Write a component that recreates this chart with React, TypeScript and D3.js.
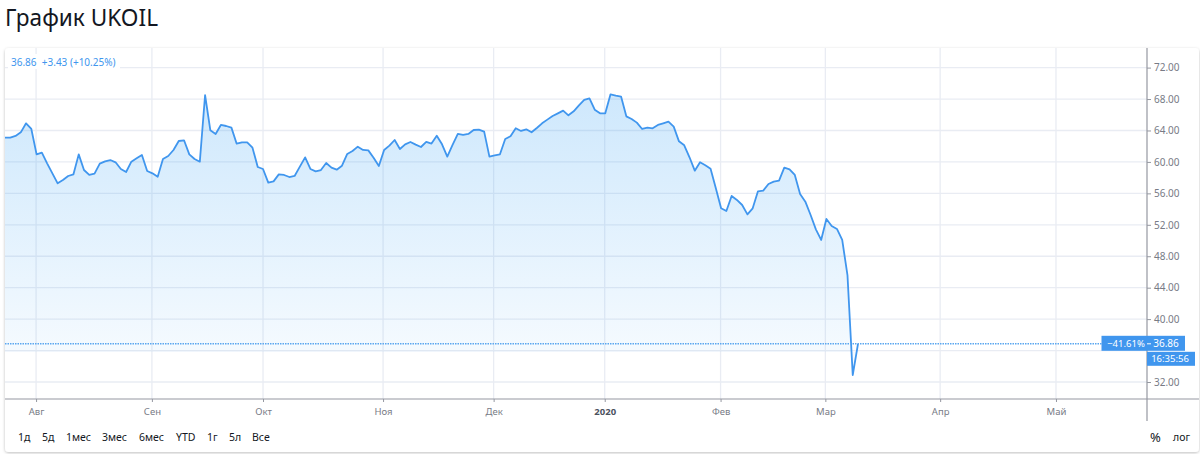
import { useEffect, useRef } from "react";
import * as d3 from "d3";

const prices = [
  63.09, 63.09, 63.3, 63.76, 64.91, 64.19, 60.96, 61.18, 59.82, 58.55, 57.28, 57.7, 58.21, 58.42, 60.96, 58.97,
  58.34, 58.51, 59.78, 60.07, 60.24, 59.95, 59.1, 58.72, 60.03, 60.46, 60.88, 58.84, 58.55, 58.12, 60.37, 60.75,
  61.52, 62.66, 62.75, 60.96, 60.37, 60.03, 68.51, 64.02, 63.55, 64.7, 64.57, 64.36, 62.32, 62.49, 62.49, 61.81,
  59.35, 59.1, 57.36, 57.53, 58.42, 58.34, 58.08, 58.21, 59.4, 60.58, 59.1, 58.8, 58.97, 59.86, 59.27, 59.01,
  59.52, 61.01, 61.39, 61.94, 61.52, 61.47, 60.54, 59.48, 61.52, 62.07, 62.79, 61.64, 62.24, 62.54, 62.2, 61.9,
  62.54, 62.33, 63.34, 62.24, 60.67, 62.16, 63.56, 63.43, 63.56, 64.06, 64.11, 63.85, 60.67, 60.84, 60.97, 62.92,
  63.26, 64.28, 63.94, 64.15, 63.77, 64.32, 64.91, 65.38, 65.85, 66.18, 66.52, 65.93, 66.44, 67.2, 67.88, 68.09,
  66.65, 66.18, 66.18, 68.6, 68.43, 68.31, 65.8, 65.46, 65.0, 64.19, 64.36, 64.28, 64.7, 64.91, 65.12, 64.49,
  62.62, 62.11, 60.59, 58.89, 59.95, 59.57, 59.14, 56.64, 54.1, 53.76, 55.67, 55.16, 54.52, 53.33, 54.1, 56.26,
  56.35, 57.19, 57.49, 57.62, 59.27, 59.06, 58.34, 55.92, 54.94, 53.25, 51.42, 50.07, 52.74, 51.85, 51.47, 50.07,
  45.61, 32.89, 36.86,
];
// 36.00 sits under the price tags in the original, so it only gets a grid line
const priceTicks = [32, 40, 44, 48, 52, 56, 60, 64, 68, 72];
const gridTicks = [32, 36, 40, 44, 48, 52, 56, 60, 64, 68, 72];
const monthLabels = ["Авг", "Сен", "Окт", "Ноя", "Дек", "2020", "Фев", "Мар", "Апр", "Май"];
// trading-day index of each month start, on the same axis as prices
const monthIndex = [5.9, 27.9, 49, 71.8, 92.8, 113.9, 135.9, 155.8, 177.6, 199.6];
const rangeButtons = ["1д", "5д", "1мес", "3мес", "6мес", "YTD", "1г", "5л", "Все"];
const rangeX = [18, 42, 66, 102, 139, 176, 207, 229, 252];
const lastPrice = 36.86;
const FONT = "'Noto Sans', sans-serif";

export default function App() {
  const svgRef = useRef<SVGSVGElement>(null);

  useEffect(() => {
    if (!svgRef.current) return;
    const svg = d3.select(svgRef.current);
    svg.selectAll("*").remove();

    const plot = { left: 5, right: 1147, top: 48, bottom: 399, card: 1199 };
    const x = d3.scaleLinear().domain([0, prices.length - 1]).range([5, 858]);
    const y = d3.scaleLinear().domain([32, 72]).range([382, 67.6]);

    const defs = svg.append("defs");
    const grad = defs.append("linearGradient").attr("id", "fade").attr("x1", 0).attr("x2", 0).attr("y1", 0).attr("y2", 1);
    grad.append("stop").attr("offset", "0%").attr("stop-color", "#2196f3").attr("stop-opacity", 0.22);
    grad.append("stop").attr("offset", "100%").attr("stop-color", "#2196f3").attr("stop-opacity", 0.03);
    const shadow = defs.append("filter").attr("id", "cardShadow").attr("x", "-2%").attr("y", "-5%").attr("width", "104%").attr("height", "110%");
    shadow.append("feDropShadow").attr("dx", 0).attr("dy", 1).attr("stdDeviation", 1.5).attr("flood-color", "#000").attr("flood-opacity", 0.25);

    svg.append("text").attr("x", 5).attr("y", 26).attr("font-family", FONT).attr("font-size", 23.5).attr("fill", "#131722")
      .attr("textLength", 153).attr("lengthAdjust", "spacingAndGlyphs").text("График UKOIL");

    svg.append("rect").attr("x", 5).attr("y", 48).attr("width", 1194).attr("height", 404).attr("rx", 4)
      .attr("fill", "#fff").attr("filter", "url(#cardShadow)");

    // Grid
    svg.selectAll(".grid-h").data(gridTicks).enter().append("line")
      .attr("x1", plot.left).attr("x2", plot.right).attr("y1", (d) => y(d)).attr("y2", (d) => y(d))
      .attr("stroke", "#e9ecf3").attr("stroke-width", 1.3);
    svg.selectAll(".grid-v").data(monthIndex).enter().append("line")
      .attr("x1", (d) => x(d)).attr("x2", (d) => x(d)).attr("y1", plot.top).attr("y2", plot.bottom)
      .attr("stroke", "#e9ecf3").attr("stroke-width", 1.3);

    // Area and line
    const area = d3.area<number>().x((_, i) => x(i)).y0(352).y1((d) => y(d));
    svg.append("path").datum(prices).attr("d", area).attr("fill", "url(#fade)");
    const line = d3.line<number>().x((_, i) => x(i)).y((d) => y(d));
    svg.append("path").datum(prices).attr("d", line).attr("fill", "none").attr("stroke", "#4096ee").attr("stroke-width", 1.8).attr("stroke-linejoin", "round");

    // Last price line
    svg.append("line").attr("x1", plot.left).attr("x2", plot.right - 45).attr("y1", y(lastPrice)).attr("y2", y(lastPrice))
      .attr("stroke", "#5aa7f0").attr("stroke-width", 1.4).attr("stroke-dasharray", "1.5 1");

    // Axes
    svg.append("line").attr("x1", plot.right).attr("x2", plot.right).attr("y1", plot.top).attr("y2", 421).attr("stroke", "#9598a1").attr("stroke-width", 1.2);
    svg.append("line").attr("x1", plot.left).attr("x2", plot.card).attr("y1", plot.bottom).attr("y2", plot.bottom).attr("stroke", "#9598a1").attr("stroke-width", 1.2);

    const yAxis = d3.axisRight(y).tickValues(priceTicks).tickFormat((d) => (d as number).toFixed(2)).tickSize(4).tickPadding(3);
    const yG = svg.append("g").attr("transform", `translate(${plot.right},0)`).call(yAxis);
    const xAxis = d3.axisBottom(x).tickValues(monthIndex).tickFormat((_, i) => monthLabels[i]).tickSize(3).tickPadding(6);
    const xG = svg.append("g").attr("transform", `translate(0,${plot.bottom})`).call(xAxis);
    yG.select(".domain").remove();
    xG.select(".domain").remove();
    yG.selectAll("line").attr("stroke", "#9598a1");
    xG.selectAll("line").attr("stroke", "#9598a1");
    yG.selectAll("text").attr("font-family", FONT).attr("font-size", 10).attr("fill", "#787b86");
    xG.selectAll("text").attr("font-family", FONT).attr("font-size", 9.5)
      .attr("fill", (_, i) => (monthLabels[i] === "2020" ? "#4c525e" : "#787b86"))
      .attr("font-weight", (_, i) => (monthLabels[i] === "2020" ? 700 : 400));

    // Legend top-left
    svg.append("rect").attr("x", 8).attr("y", 54).attr("width", 112).attr("height", 15).attr("fill", "#fff");
    svg.append("text").attr("x", 11).attr("y", 66).attr("font-family", FONT).attr("font-size", 10).attr("fill", "#4096ee").attr("xml:space", "preserve")
      .text("36.86  +3.43 (+10.25%)");

    // Price labels
    const tag = (x0: number, x1: number, y0: number, y1: number, label: string, tx: number, size: number) => {
      svg.append("rect").attr("x", x0).attr("y", y0).attr("width", x1 - x0).attr("height", y1 - y0).attr("fill", "#4096ee");
      svg.append("text").attr("x", tx).attr("y", (y0 + y1) / 2 + 3.5).attr("text-anchor", "middle").attr("font-family", FONT)
        .attr("font-size", size).attr("fill", "#fff").text(label);
    };
    const ly = y(lastPrice);
    tag(1101.5, plot.right, ly - 8, ly + 7, "−41.61%", 1126, 9.5);
    tag(plot.right, 1185, ly - 8, ly + 7, "36.86", 1166, 10);
    svg.append("line").attr("x1", plot.right).attr("x2", plot.right + 4).attr("y1", ly).attr("y2", ly).attr("stroke", "#fff");
    tag(plot.right, 1195, ly + 8, ly + 22, "16:35:56", 1170, 9.5);

    // Bottom toolbar
    svg.selectAll(".range").data(rangeButtons).enter().append("text")
      .attr("x", (_, i) => rangeX[i]).attr("y", 441).attr("font-family", FONT).attr("font-size", 10.5).attr("fill", "#131722")
      .text((d) => d);
    svg.append("text").attr("x", 1150).attr("y", 442).attr("font-family", FONT).attr("font-size", 13).attr("fill", "#131722").text("%");
    svg.append("text").attr("x", 1173).attr("y", 441).attr("font-family", FONT).attr("font-size", 10.5).attr("fill", "#131722").text("лог");
  }, []);

  return (
    <svg ref={svgRef} width={1200} height={454} style={{ position: "absolute", left: 0, top: 0, background: "#fff" }} role="img" aria-label="График UKOIL" />
  );
}
